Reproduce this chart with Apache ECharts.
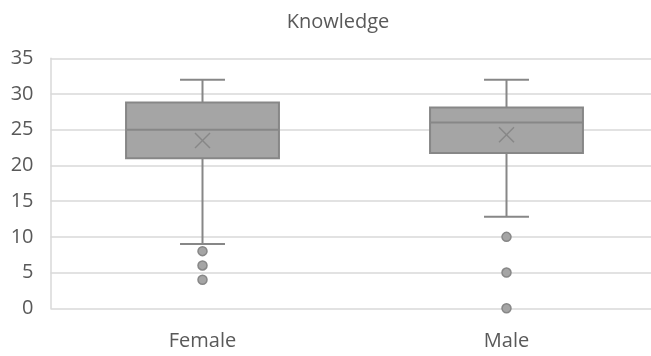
<!DOCTYPE html>
<html>
<head>
<meta charset="utf-8">
<script src="https://cdn.jsdelivr.net/npm/echarts@6/dist/echarts.min.js"></script>
<style>html,body{margin:0;padding:0;background:#fff;overflow:hidden}#c{width:651px;height:356px}</style>
</head>
<body>
<div id="c"></div>
<script>
const categories = ['Female', 'Male'];
// [min whisker, Q1, median, Q3, max whisker]
const femaleBox = [9, 21, 25, 28.8, 32];
const maleBox = [12.8, 21.75, 26, 28.1, 32];
const means = [23.5, 24.3];
const femaleOutliers = [8, 6, 4];
const maleOutliers = [10, 5, 0];
const yTicks = { min: 0, max: 35, interval: 5 };

const FONT = '"Open Sans", "Liberation Sans", sans-serif';
const TEXT = '#595959';
const FILL = '#a5a5a5';
const STROKE = '#878787';

const boxData = [
  [0].concat(femaleBox, [means[0]]),
  [1].concat(maleBox, [means[1]])
];
const outlierData = [];
femaleOutliers.forEach(v => outlierData.push([0, v]));
maleOutliers.forEach(v => outlierData.push([1, v]));

const chart = echarts.init(document.getElementById('c'), null, { renderer: 'canvas' });
chart.setOption({
  animation: false,
  backgroundColor: '#fff',
  title: {
    text: 'Knowledge', left: 333, textAlign: 'center', top: 7,
    textStyle: { fontFamily: FONT, fontSize: 20, fontWeight: 'normal', color: TEXT }
  },
  grid: { left: 50.5, width: 608, top: 58.3, height: 250, containLabel: false, outerBoundsMode: 'none' },
  xAxis: {
    type: 'category', data: categories,
    axisLine: { show: false }, axisTick: { show: false },
    axisLabel: { fontFamily: FONT, fontSize: 20, color: TEXT, margin: 23 }
  },
  yAxis: {
    type: 'value', min: yTicks.min, max: yTicks.max, interval: yTicks.interval,
    axisLine: { show: true, lineStyle: { color: '#d9d9d9', width: 1.5 } },
    axisTick: { show: false },
    splitLine: { lineStyle: { color: '#d9d9d9', width: 1.5 } },
    axisLabel: { fontFamily: FONT, fontSize: 20, color: TEXT, margin: 17 }
  },
  series: [
    {
      type: 'custom',
      data: boxData,
      encode: { x: 0, y: [1, 2, 3, 4, 5, 6] },
      renderItem: function (params, api) {
        const c = api.value(0);
        const band = api.size([1, 0])[0];
        const bw = band * 0.503;
        const cw = bw * 0.294;
        const cx = api.coord([c, 0])[0];
        const y = i => api.coord([c, api.value(i)])[1];
        const yMin = y(1), yQ1 = y(2), yMed = y(3), yQ3 = y(4), yMax = y(5), yMean = y(6);
        const ls = { stroke: STROKE, lineWidth: 2, fill: null };
        const m = 7.5;
        return {
          type: 'group',
          children: [
            { type: 'line', shape: { x1: cx, y1: yMax, x2: cx, y2: yQ3 }, style: ls },
            { type: 'line', shape: { x1: cx, y1: yQ1, x2: cx, y2: yMin }, style: ls },
            { type: 'line', shape: { x1: cx - cw / 2, y1: yMax, x2: cx + cw / 2, y2: yMax }, style: ls },
            { type: 'line', shape: { x1: cx - cw / 2, y1: yMin, x2: cx + cw / 2, y2: yMin }, style: ls },
            { type: 'rect', shape: { x: cx - bw / 2, y: yQ3, width: bw, height: yQ1 - yQ3 }, style: { fill: FILL, stroke: STROKE, lineWidth: 2 } },
            { type: 'line', shape: { x1: cx - bw / 2, y1: yMed, x2: cx + bw / 2, y2: yMed }, style: ls },
            { type: 'line', shape: { x1: cx - m, y1: yMean - m, x2: cx + m, y2: yMean + m }, style: { stroke: STROKE, lineWidth: 1.5 } },
            { type: 'line', shape: { x1: cx - m, y1: yMean + m, x2: cx + m, y2: yMean - m }, style: { stroke: STROKE, lineWidth: 1.5 } }
          ]
        };
      },
      z: 3
    },
    {
      type: 'scatter',
      data: outlierData,
      symbol: 'circle',
      symbolSize: 9,
      itemStyle: { color: FILL, borderColor: STROKE, borderWidth: 1.5, opacity: 1 },
      z: 4
    }
  ]
});
</script>
</body>
</html>
